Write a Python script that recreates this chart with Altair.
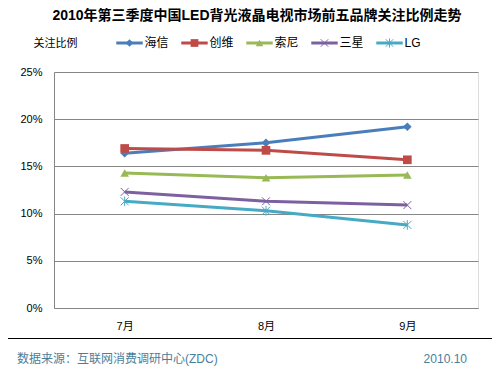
import altair as alt
import pandas as pd

months = ["7月", "8月", "9月"]
brands = ["海信", "创维", "索尼", "三星", "LG"]
haixin = [0.164, 0.175, 0.192]
chuangwei = [0.169, 0.167, 0.157]
suoni = [0.143, 0.138, 0.141]
sanxing = [0.123, 0.113, 0.109]
lg = [0.113, 0.103, 0.088]
series = [haixin, chuangwei, suoni, sanxing, lg]

colors = ["#4a7ebb", "#be4b48", "#98b954", "#7d60a0", "#46aac5"]
shapes = [
    "diamond",
    "square",
    "triangle-up",
    "M-1,-1L1,1M-1,1L1,-1",
    "M-1,-1L1,1M-1,1L1,-1M0,-1.2L0,1.2",
]

rows = []
for b, vals in zip(brands, series):
    for m, v in zip(months, vals):
        rows.append({"brand": b, "month": m, "value": v})
df = pd.DataFrame(rows)
leg_df = pd.DataFrame({"brand": brands})
one = pd.DataFrame({"k": [0]})

FONT = "Liberation Sans, Noto Sans CJK SC"

color = alt.Color("brand:N", scale=alt.Scale(domain=brands, range=colors), legend=None)
shape = alt.Shape("brand:N", scale=alt.Scale(domain=brands, range=shapes), legend=None)

xenc = alt.X("month:N", sort=months,
             scale=alt.Scale(type="point", padding=0.5),
             axis=alt.Axis(title=None, labelAngle=0, ticks=False, labelPadding=12,
                           labelFontSize=11, labelColor="#000000", labelFont=FONT,
                           domainColor="#868686", grid=False))
yenc = alt.Y("value:Q", scale=alt.Scale(domain=[0, 0.25], nice=False),
             axis=alt.Axis(title="关注比例", titleAngle=0, titleX=-21, titleY=-29,
                           titleAlign="left", titleBaseline="middle", titleFont=FONT,
                           titleFontSize=11, titleFontWeight="normal", titleColor="#000000",
                           values=[0, 0.05, 0.1, 0.15, 0.2, 0.25], format=".0%",
                           ticks=False, labelPadding=12, labelFontSize=11,
                           labelColor="#000000", labelFont=FONT,
                           domainColor="#868686", gridColor="#868686", gridOpacity=1))

base = alt.Chart(df)
lines = base.mark_line(strokeWidth=3).encode(x=xenc, y=yenc, color=color, detail="brand:N")
filled_pts = base.transform_filter(
    alt.FieldOneOfPredicate(field="brand", oneOf=brands[:3])
).mark_point(filled=True, size=75, opacity=1).encode(x=xenc, y="value:Q", color=color, shape=shape)
cross_pts = base.transform_filter(
    alt.FieldOneOfPredicate(field="brand", oneOf=brands[3:])
).mark_point(filled=False, size=64, strokeWidth=1, opacity=1).encode(x=xenc, y="value:Q", color=color, shape=shape)
main = alt.layer(lines, filled_pts, cross_pts)

lx = alt.X("brand:N", sort=brands, scale=alt.Scale(type="point", range=[75.5, 335.5], padding=0), axis=None)
lg_base = alt.Chart(leg_df)
leg_line = lg_base.mark_point(shape="stroke", size=700, strokeWidth=3, opacity=1, filled=False).encode(
    x=lx, y=alt.value(-29), color=color)
leg_fill = lg_base.transform_filter(
    alt.FieldOneOfPredicate(field="brand", oneOf=brands[:3])
).mark_point(filled=True, size=60, opacity=1).encode(x=lx, y=alt.value(-29), color=color, shape=shape)
leg_cross = lg_base.transform_filter(
    alt.FieldOneOfPredicate(field="brand", oneOf=brands[3:])
).mark_point(filled=False, size=56, strokeWidth=1, opacity=1).encode(x=lx, y=alt.value(-29), color=color, shape=shape)
leg_text = lg_base.mark_text(align="left", baseline="middle", dx=15, fontSize=12, font=FONT,
                             color="#000000").encode(x=lx, y=alt.value(-29), text="brand:N")
legend = alt.layer(leg_line, leg_fill, leg_cross, leg_text)

# title, separator, footer
title = alt.Chart(one).mark_text(align="center", baseline="middle", fontSize=14, fontWeight="bold",
                                 font=FONT, color="#000000",
                                 text="2010年第三季度中国LED背光液晶电视市场前五品牌关注比例走势").encode(
    x=alt.value(203), y=alt.value(-56))
sep = alt.Chart(one).mark_rule(color="#000000", strokeWidth=1).encode(
    x=alt.value(-50), x2=alt.value(442), y=alt.value(266.5))
foot_left = alt.Chart(one).mark_text(align="left", baseline="middle", fontSize=12, font=FONT,
                                     color="#4a7e9b", text="数据来源：互联网消费调研中心(ZDC)").encode(
    x=alt.value(-37), y=alt.value(286.5))
foot_right = alt.Chart(one).mark_text(align="right", baseline="middle", fontSize=12, font=FONT,
                                      color="#4a7e9b", text="2010.10").encode(
    x=alt.value(413), y=alt.value(286.5))
deco = alt.layer(title, sep, foot_left, foot_right)

chart = alt.layer(main, legend, deco).resolve_scale(x="independent").properties(
    width=424, height=236,
    autosize=alt.AutoSizeParams(type="none"),
    padding={"left": 46, "top": 64, "right": 14, "bottom": 59},
).configure_view(stroke=None).configure(background="white")

chart.save("out.html", embed_options={"renderer": "svg", "actions": False})
